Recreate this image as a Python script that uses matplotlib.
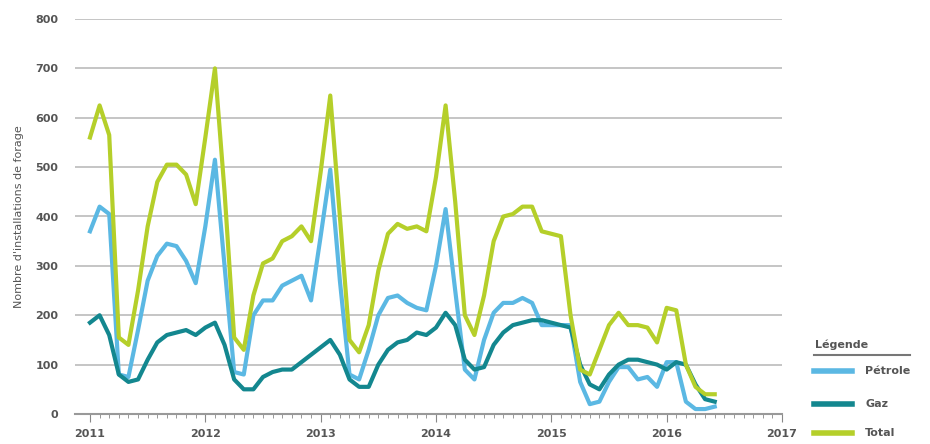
import matplotlib.pyplot as plt
from matplotlib.lines import Line2D
import numpy as np

# séries mensuelles, janvier 2011 -> juin 2016
petrole = [370, 420, 405, 80, 75, 170, 270, 320, 345, 340, 310, 265,
           380, 515, 300, 85, 80, 200, 230, 230, 260, 270, 280, 230,
           360, 495, 270, 80, 70, 130, 200, 235, 240, 225, 215, 210,
           300, 415, 250, 90, 70, 150, 205, 225, 225, 235, 225, 180,
           180, 180, 180, 65, 20, 25, 65, 95, 95, 70, 75, 55,
           105, 105, 25, 10, 10, 15]
gaz = [185, 200, 160, 80, 65, 70, 110, 145, 160, 165, 170, 160,
       175, 185, 140, 70, 50, 50, 75, 85, 90, 90, 105, 120,
       135, 150, 120, 70, 55, 55, 100, 130, 145, 150, 165, 160,
       175, 205, 180, 110, 90, 95, 140, 165, 180, 185, 190, 190,
       185, 180, 175, 100, 60, 50, 80, 100, 110, 110, 105, 100,
       90, 105, 100, 60, 30, 25]
total = [560, 625, 565, 155, 140, 250, 380, 470, 505, 505, 485, 425,
         560, 700, 450, 155, 130, 240, 305, 315, 350, 360, 380, 350,
         490, 645, 400, 150, 125, 180, 290, 365, 385, 375, 380, 370,
         480, 625, 430, 200, 160, 240, 350, 400, 405, 420, 420, 370,
         365, 360, 200, 90, 80, 130, 180, 205, 180, 180, 175, 145,
         215, 210, 100, 55, 40, 40]
years = [2011, 2012, 2013, 2014, 2015, 2016, 2017]

c_pet = "#5bb8e3"
c_gaz = "#13878f"
c_tot = "#b5cf2a"
grey = "#555555"

x = 2011 + np.arange(len(total)) / 12

fig = plt.figure(figsize=(9.3, 4.44), dpi=100)
ax = fig.add_axes([75/930, 1-414/444, (782-75)/930, (414-19)/444])

ax.plot(x, petrole, color=c_pet, lw=3)
ax.plot(x, gaz, color=c_gaz, lw=3)
ax.plot(x, total, color=c_tot, lw=3)

ax.set_xlim(2011 - 15/115.4, 2017)
ax.set_ylim(0, 800)
ax.set_yticks(range(0, 801, 100))
ax.yaxis.grid(True, color="#bbbbbb", lw=1.2)
ax.set_axisbelow(True)
ax.set_xticks(years)
ax.set_xticks(np.arange(2011, 2017, 1/12), minor=True)
ax.tick_params(axis="x", which="major", length=6, color="#888888", labelsize=8, labelcolor=grey, pad=5)
ax.tick_params(axis="x", which="minor", length=3, color="#888888")
ax.tick_params(axis="y", length=0, labelsize=8, labelcolor=grey, pad=12)
for s in ["top", "right", "left"]:
    ax.spines[s].set_visible(False)
ax.spines["bottom"].set_color("#999999")
ax.spines["bottom"].set_linewidth(1.5)
for lab in ax.get_xticklabels() + ax.get_yticklabels():
    lab.set_fontweight("bold")
ax.set_ylabel("Nombre d'installations de forage", fontsize=8, color=grey, labelpad=8)

# légende
fig.text(815/930, 1-345/444, "Légende", fontsize=8, color=grey, fontweight="bold", va="center")
fig.add_artist(Line2D([814/930, 910/930], [1-355/444]*2, color="#777777", lw=1.5))
for y, lab, c in [(371, "Pétrole", c_pet), (404, "Gaz", c_gaz), (433, "Total", c_tot)]:
    fig.add_artist(Line2D([814/930, 852/930], [1-y/444]*2, color=c, lw=4))
    fig.text(865/930, 1-y/444, lab, fontsize=8, color=grey, fontweight="bold", va="center")

fig.savefig("out.png", dpi=100)
